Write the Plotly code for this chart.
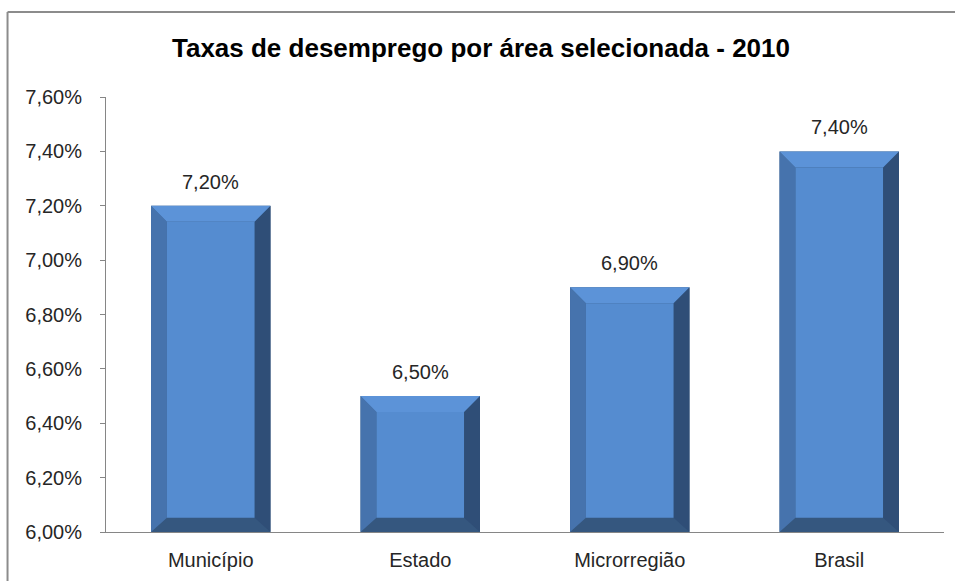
import plotly.graph_objects as go

categories = ["Município", "Estado", "Microrregião", "Brasil"]
values = [7.20, 6.50, 6.90, 7.40]
y_ticks = [6.0, 6.2, 6.4, 6.6, 6.8, 7.0, 7.2, 7.4, 7.6]

Y0, Y1 = 6.0, 7.6
BAR_W = 0.57
DX = 0.076      # bevel width (x units)
DY_TOP = 0.059  # bevel top (y units)
DY_BOT = 0.052  # bevel bottom (y units)

W, H = 955, 581

fig = go.Figure()

x_idx = list(range(len(categories)))

# base bar (dark, gives bottom colour)
fig.add_trace(go.Bar(x=x_idx, y=[v - Y0 for v in values], base=Y0, width=BAR_W,
                     marker=dict(color="#35577F", line=dict(width=0)),
                     hoverinfo="skip", showlegend=False))

def poly_trace(pts_fn, color):
    xs, ys = [], []
    for i, v in zip(x_idx, values):
        pts = pts_fn(i, v)
        for px, py in pts:
            xs.append(px); ys.append(py)
        xs.append(pts[0][0]); ys.append(pts[0][1])
        xs.append(None); ys.append(None)
    return go.Scatter(x=xs, y=ys, mode="lines", fill="toself", fillcolor=color,
                      line=dict(width=0, color=color), hoverinfo="skip", showlegend=False)

h = BAR_W / 2
# left side
fig.add_trace(poly_trace(lambda i, v: [(i - h, Y0), (i - h, v), (i - h + DX, v - DY_TOP), (i - h + DX, Y0 + DY_BOT)], "#4673AD"))
# right side
fig.add_trace(poly_trace(lambda i, v: [(i + h, Y0), (i + h, v), (i + h - DX, v - DY_TOP), (i + h - DX, Y0 + DY_BOT)], "#2F4E77"))
# top
fig.add_trace(poly_trace(lambda i, v: [(i - h, v), (i + h, v), (i + h - DX, v - DY_TOP), (i - h + DX, v - DY_TOP)], "#5C93D8"))
# front face
fig.add_trace(poly_trace(lambda i, v: [(i - h + DX, Y0 + DY_BOT), (i - h + DX, v - DY_TOP), (i + h - DX, v - DY_TOP), (i + h - DX, Y0 + DY_BOT)], "#558CD0"))

for i, v in zip(x_idx, values):
    fig.add_annotation(x=i, y=v, text=f"{v:.2f}".replace(".", ",") + "%", showarrow=False,
                       yshift=24, font=dict(size=20, color="#262626"))

# chart-area border (only left and top edges visible)
BX, BY = -0.1175, 1.1955
fig.add_shape(type="line", xref="paper", yref="paper", x0=BX, x1=BX, y0=-0.5, y1=BY,
              line=dict(color="#8C8C8C", width=2), layer="below")
fig.add_shape(type="line", xref="paper", yref="paper", x0=BX, x1=1.3, y0=BY, y1=BY,
              line=dict(color="#8C8C8C", width=2), layer="below")

fig.update_layout(
    width=W, height=H,
    margin=dict(l=106, r=11, t=97, b=49),
    paper_bgcolor="white", plot_bgcolor="white",
    separators=",.",
    font=dict(family="Liberation Sans, Arial, sans-serif", size=20, color="#262626"),
    title=dict(text="<b>Taxas de desemprego por área selecionada - 2010</b>",
               x=481 / W, xanchor="center", y=1 - 48 / H, yanchor="middle", yref="container",
               font=dict(size=26, color="#000000")),
    xaxis=dict(range=[-0.5, 3.5], tickmode="array", tickvals=x_idx, ticktext=categories,
               showgrid=False, zeroline=False, showline=True, linecolor="#868686", linewidth=1,
               ticks="", ticklabelstandoff=10, tickfont=dict(size=20)),
    yaxis=dict(range=[Y0, Y1], tickmode="array", tickvals=y_ticks,
               ticktext=[f"{t:.2f}".replace(".", ",") + "%" for t in y_ticks],
               showgrid=False, zeroline=False, showline=True, linecolor="#868686", linewidth=1,
               ticks="outside", ticklen=5, tickcolor="#868686", ticklabelstandoff=14,
               tickfont=dict(size=20)),
    bargap=0.43,
)

fig.write_html("out.html", config={"displayModeBar": False},
               post_script="document.body.style.margin='0';document.body.style.overflow='hidden';")
